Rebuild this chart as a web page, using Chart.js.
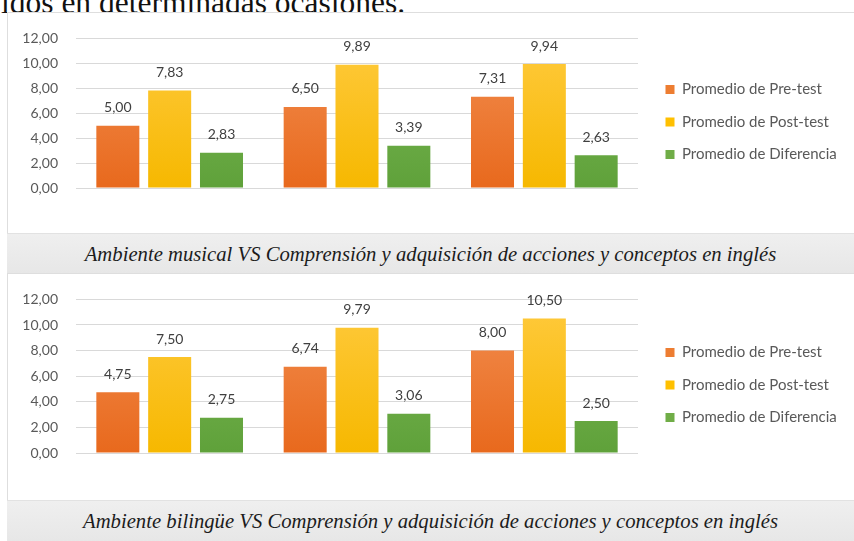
<!DOCTYPE html>
<html>
<head>
<meta charset="utf-8">
<script src="https://cdn.jsdelivr.net/npm/chart.js@4"></script>
<style>
  body { margin: 0; width: 854px; height: 541px; background: #fff; position: relative; overflow: hidden; }
  .lead { position: absolute; left: 1px; top: -13px; font: 31.5px "Liberation Serif", serif; line-height: 31px; color: #111; white-space: nowrap; }
  .panel { position: absolute; left: 7px; width: 847px; border-top: 1px solid #dedede; border-left: 1px solid #dedede; box-sizing: border-box; background: #fff; }
  .band { position: absolute; left: 7px; width: 847px; background: linear-gradient(#efefef, #e7e7e7); border-top: 1px solid #e2e2e2;
          font: italic 20.7px "Liberation Serif", serif; color: #1c1c1c; text-align: center; box-sizing: border-box; white-space: nowrap; }
  canvas { position: absolute; left: 7px; }
</style>
</head>
<body>
<div class="lead">idos en determinadas ocasiones.</div>

<div class="panel" style="top:12px;height:221px"></div>
<canvas id="c1" width="847" height="221" style="top:12px"></canvas>
<div class="band" style="top:233px;height:40px;line-height:40px">Ambiente musical VS Comprensión y adquisición de acciones y conceptos en inglés</div>

<div class="panel" style="top:273px;height:227px"></div>
<canvas id="c2" width="847" height="227" style="top:273px"></canvas>
<div class="band" style="top:500px;height:41px;line-height:41px">Ambiente bilingüe VS Comprensión y adquisición de acciones y conceptos en inglés</div>

<script>
// data
const categories = ["Bajo", "Medio", "Alto"];
const seriesNames = ["Promedio de Pre-test", "Promedio de Post-test", "Promedio de Diferencia"];

const musicalPre = [5.00, 6.50, 7.31];
const musicalPost = [7.83, 9.89, 9.94];
const musicalDiff = [2.83, 3.39, 2.63];

const bilingualPre = [4.75, 6.74, 8.00];
const bilingualPost = [7.50, 9.79, 10.50];
const bilingualDiff = [2.75, 3.06, 2.50];

const yTicks = [0, 2, 4, 6, 8, 10, 12];

const solid = ["#ED7D31", "#FFC000", "#70AD47"];
const stops = [["#F28E50", "#E8691D"], ["#FFCA3E", "#F6B800"], ["#7EBA58", "#5FA13A"]];

const fmt = v => v.toFixed(2).replace(".", ",");
const FONT = "Lato";
const GAP = 10;

function grad(i) {
  return (ctx) => {
    const area = ctx.chart.chartArea;
    if (!area) return solid[i];
    const g = ctx.chart.ctx.createLinearGradient(0, area.top, 0, area.bottom);
    g.addColorStop(0, stops[i][0]);
    g.addColorStop(1, stops[i][1]);
    return g;
  };
}

const valueLabels = {
  id: "valueLabels",
  afterDatasetsDraw(chart) {
    const ctx = chart.ctx;
    ctx.save();
    ctx.font = "14px " + FONT;
    ctx.fillStyle = "#404040";
    ctx.textAlign = "center";
    ctx.textBaseline = "middle";
    chart.data.datasets.forEach((ds, i) => {
      chart.getDatasetMeta(i).data.forEach((bar, j) => {
        ctx.fillText(fmt(ds.data[j]), bar.x, bar.y - 18);
      });
    });
    ctx.restore();
  }
};

function makeChart(id, pre, post, diff, pad) {
  const series = [pre, post, diff];
  const chart = new Chart(document.getElementById(id), {
    type: "bar",
    data: {
      labels: categories,
      datasets: series.map((d, i) => ({
        label: seriesNames[i],
        data: d,
        backgroundColor: grad(i),
        categoryPercentage: 0.83,
        barPercentage: 0.83,
      })),
    },
    plugins: [valueLabels],
    options: {
      responsive: false,
      animation: false,
      layout: { padding: { top: pad.top, right: 10, bottom: pad.bottom, left: 0 } },
      scales: {
        x: {
          grid: { display: false },
          border: { display: false },
          ticks: { font: { family: FONT, size: 14 }, color: "#595959", padding: 16 },
          afterFit: s => { s.height = pad.xh; },
        },
        y: {
          min: 0,
          max: 12,
          afterBuildTicks: s => { s.ticks = yTicks.map(v => ({ value: v })); },
          ticks: { font: { family: FONT, size: 14 }, color: "#595959", padding: 18, callback: v => fmt(v) },
          grid: { color: "#d9d9d9", drawTicks: false },
          border: { display: false },
          afterFit: s => { s.width = 69; },
        },
        gap: {
          position: "right",
          min: 0,
          max: 1,
          grid: { display: false },
          border: { display: false },
          ticks: { display: false },
          afterFit: s => { s.width = GAP; },
        },
      },
      plugins: {
        tooltip: { enabled: false },
        legend: {
          position: "right",
          maxWidth: 300,
          labels: {
            boxWidth: 9,
            boxHeight: 9,
            padding: 17.5,
            color: "#595959",
            font: { family: FONT, size: 15 },
            generateLabels: (c) => c.data.datasets.map((ds, i) => ({
              text: ds.label, fillStyle: solid[i], strokeStyle: solid[i], lineWidth: 0,
              hidden: false, datasetIndex: i, fontColor: "#595959",
            })),
          },
        },
      },
    },
  });
  // keep the plot area ending at x=631 in the canvas
  const lw = chart.legend.width;
  chart.options.layout.padding.right = Math.max(0, 847 - 631 - GAP - lw);
  chart.update();
  return chart;
}

makeChart("c1", musicalPre, musicalPost, musicalDiff, { top: 21, bottom: 22, xh: 23 });
makeChart("c2", bilingualPre, bilingualPost, bilingualDiff, { top: 20, bottom: 23, xh: 24 });
</script>
</body>
</html>
